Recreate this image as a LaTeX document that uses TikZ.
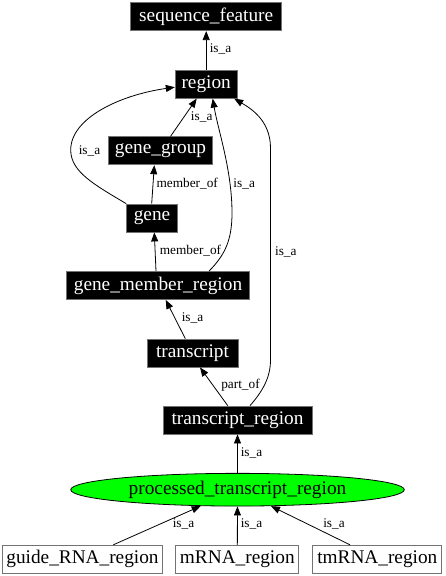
\documentclass[tikz,border=0pt]{standalone}
\usepackage{fontspec}
\setmainfont{Liberation Serif}
\usetikzlibrary{arrows.meta,shapes.geometric}
\begin{document}
\begin{tikzpicture}[x=1pt,y=-1pt,
  nodefont/.style={font=\fontsize{19.3}{20}\selectfont},
  blk/.style={rectangle,nodefont,fill=black,draw=black!55,line width=0.8pt,text=white,inner sep=0pt,minimum height=28pt},
  wht/.style={rectangle,nodefont,fill=white,draw=black!55,line width=0.8pt,text=black,inner sep=0pt,minimum height=28pt},
  lab/.style={font=\fontsize{13.3}{14}\selectfont,inner sep=0pt},
  edge/.style={draw=black,line width=0.8pt,-{Triangle[length=9pt,width=7pt]}}
]
\useasboundingbox (0,0) rectangle (445,576);
% nodes
\node[blk,minimum width=151pt] (sf) at (206.2,16.7) {sequence\_feature};
\node[blk,minimum width=62pt] (reg) at (206.2,84.2) {region};
\node[blk,minimum width=104pt] (gg) at (160.5,150.8) {gene\_group};
\node[blk,minimum width=51pt] (gene) at (152,218) {gene};
\node[blk,minimum width=183pt] (gmr) at (158,285.5) {gene\_member\_region};
\node[blk,minimum width=91pt] (tr) at (192.5,353) {transcript};
\node[blk,minimum width=149pt] (trr) at (237.5,420) {transcript\_region};
\node[ellipse,nodefont,fill=green,draw=black,line width=0.8pt,minimum width=333.6pt,minimum height=32.7pt,inner sep=0pt] (ptr) at (237.5,489.7) {processed\_transcript\_region};
\node[wht,minimum width=160pt] (guide) at (82.5,559.2) {guide\_RNA\_region};
\node[wht,minimum width=123pt] (mrna) at (237.3,559.2) {mRNA\_region};
\node[wht,minimum width=129pt] (tm) at (377.3,559.2) {tmRNA\_region};
% edges
\draw[edge] (reg) -- (sf);
\draw[edge] ([xshift=10pt]gg.north) -- ([xshift=-9.5pt]reg.south);
\draw[edge] (gene.north west) .. controls (95,185) and (70.7,172) .. (70.7,150) .. controls (70.7,118) and (120,95) .. ([yshift=-3pt]reg.west);
\draw[edge] ([xshift=-0.3pt]gene.north) -- ([xshift=-6.2pt]gg.south);
\draw[edge] ([xshift=-2pt]gmr.north) -- ([xshift=2.3pt]gene.south);
\draw[edge] ([xshift=51pt]gmr.north) .. controls (225,255) and (232,240) .. (232,213) .. controls (232,170) and (218,130) .. ([xshift=6.5pt]reg.south);
\draw[edge] ([xshift=-7.2pt]tr.north) -- ([xshift=7.7pt]gmr.south);
\draw[edge] ([xshift=-9.8pt]trr.north) -- ([xshift=7.5pt]tr.south);
\draw[edge] ([xshift=12.5pt]trr.north) .. controls (262,392) and (270.5,378) .. (270.5,360) -- (270.5,148) .. controls (270.5,120) and (250,108) .. ([xshift=28pt]reg.south);
\draw[edge] (ptr) -- (trr);
\draw[edge] ([xshift=30.8pt]guide.north) -- (ptr);
\draw[edge] (mrna) -- (ptr);
\draw[edge] ([xshift=-27.3pt]tm.north) -- (ptr);
% labels
\node[lab] (l1) at (220.5,49.3) {is\_a};
\node[lab] (l2) at (201.7,116.7) {is\_a};
\node[lab] (l3) at (89.5,150.7) {is\_a};
\node[lab] (l4) at (187.2,184) {member\_of};
\node[lab] (l5) at (244.2,184) {is\_a};
\node[lab] (l6) at (190.5,251) {member\_of};
\node[lab] (l7) at (285.8,251.7) {is\_a};
\node[lab] (l8) at (192.5,318.3) {is\_a};
\node[lab] (l9) at (240.5,385.7) {part\_of};
\node[lab] (l10) at (251.5,453.3) {is\_a};
\node[lab] (l11) at (183.5,524.3) {is\_a};
\node[lab] (l12) at (251.5,524.3) {is\_a};
\node[lab] (l13) at (334,524.3) {is\_a};
\end{tikzpicture}
\end{document}
